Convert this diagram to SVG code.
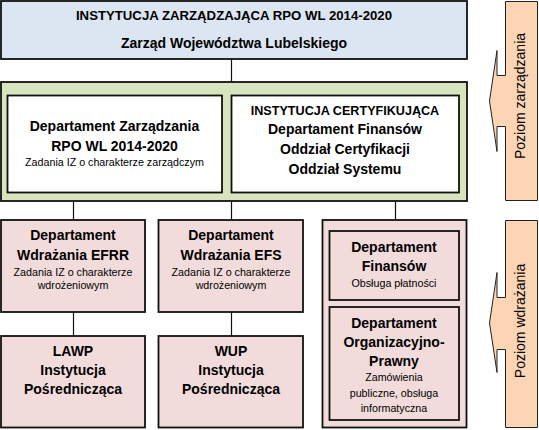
<svg xmlns="http://www.w3.org/2000/svg" width="539" height="430" viewBox="0 0 539 430">
<style>
.box{stroke:#111;stroke-width:1.8}
.blue{fill:#dce6f2}
.green{fill:#d7e4bd}
.white{fill:#ffffff}
.pink{fill:#f2dcdb}
.orange{fill:#fcd5b5;stroke:#222;stroke-width:1}
.conn{stroke:#111;stroke-width:1.2;fill:none}
text{font-family:"Liberation Sans",Arial,sans-serif;fill:#000;text-anchor:middle}
.b{font-weight:bold;font-size:14px}
.c{font-weight:bold;font-size:12.6px}
.s{font-size:10.7px}
.r{font-size:14px}
</style>
<g id="connectors">
<line class="conn" x1="231.5" y1="59" x2="231.5" y2="82"/>
<line class="conn" x1="73.5" y1="201" x2="73.5" y2="220"/>
<line class="conn" x1="231.5" y1="201" x2="231.5" y2="220"/>
<line class="conn" x1="395.5" y1="201" x2="395.5" y2="220"/>
<line class="conn" x1="73.5" y1="312" x2="73.5" y2="336"/>
<line class="conn" x1="231.5" y1="312" x2="231.5" y2="336"/>
</g>
<g id="iz">
<rect class="box blue" x="1" y="1" width="466" height="58"/>
<text class="c" x="234" y="20" style="font-size:13.2px">INSTYTUCJA ZARZĄDZAJĄCA RPO WL 2014-2020</text>
<text class="b" x="234" y="47.5">Zarząd Województwa Lubelskiego</text>
</g>
<g id="poziom-zarzadzania-grupa">
<rect class="box green" x="1" y="82" width="466" height="119"/>
</g>
<g id="dz">
<rect class="box white" x="7.5" y="95.5" width="214.5" height="97"/>
<text class="b" x="114.5" y="130.5">Departament Zarządzania</text>
<text class="b" x="114.5" y="150.5">RPO WL 2014-2020</text>
<text class="s" x="114.5" y="165.5">Zadania IZ o charakterze zarządczym</text>
</g>
<g id="ic">
<rect class="box white" x="231.5" y="95.5" width="227.5" height="97"/>
<text class="c" x="345" y="115">INSTYTUCJA CERTYFIKUJĄCA</text>
<text class="b" x="345" y="134">Departament Finansów</text>
<text class="b" x="345" y="154">Oddział Certyfikacji</text>
<text class="b" x="345" y="173.5">Oddział Systemu</text>
</g>
<g id="efrr">
<rect class="box pink" x="1" y="220" width="144" height="92"/>
<text class="b" x="73" y="240">Departament</text>
<text class="b" x="73" y="260">Wdrażania EFRR</text>
<text class="s" x="73" y="276">Zadania IZ o charakterze</text>
<text class="s" x="73" y="288.5">wdrożeniowym</text>
</g>
<g id="efs">
<rect class="box pink" x="158.5" y="220" width="144.5" height="92"/>
<text class="b" x="231" y="240">Departament</text>
<text class="b" x="231" y="260">Wdrażania EFS</text>
<text class="s" x="231" y="276">Zadania IZ o charakterze</text>
<text class="s" x="231" y="288.5">wdrożeniowym</text>
</g>
<g id="lawp">
<rect class="box pink" x="1" y="336" width="144" height="91.5"/>
<text class="b" x="73" y="356">LAWP</text>
<text class="b" x="73" y="375">Instytucja</text>
<text class="b" x="73" y="394">Pośrednicząca</text>
</g>
<g id="wup">
<rect class="box pink" x="158.5" y="336" width="144.5" height="91.5"/>
<text class="b" x="231" y="356">WUP</text>
<text class="b" x="231" y="375">Instytucja</text>
<text class="b" x="231" y="394">Pośrednicząca</text>
</g>
<g id="grupa-wdrazania">
<rect class="box pink" x="322.5" y="220" width="144" height="207.5"/>
</g>
<g id="df">
<rect class="box pink" x="329.5" y="231" width="129.5" height="69"/>
<text class="b" x="394" y="252">Departament</text>
<text class="b" x="394" y="271">Finansów</text>
<text class="s" x="394" y="287">Obsługa płatności</text>
</g>
<g id="dop">
<rect class="box pink" x="329.5" y="307" width="129.5" height="113"/>
<text class="b" x="394" y="327.5">Departament</text>
<text class="b" x="394" y="347">Organizacyjno-</text>
<text class="b" x="394" y="366">Prawny</text>
<text class="s" x="394" y="381">Zamówienia</text>
<text class="s" x="394" y="397">publiczne, obsługa</text>
<text class="s" x="394" y="412">informatyczna</text>
</g>
<g id="poziom-zarzadzania">
<path class="orange" d="M505.5,1.5 H537.5 V200.5 H505.5 V126.5 H497 V151.5 L489.5,101 L497,50.5 V75.5 H505.5 Z"/>
<text class="r" transform="translate(525,96) rotate(-90)">Poziom zarządzania</text>
</g>
<g id="poziom-wdrazania">
<path class="orange" d="M505.5,220.5 H537.5 V427.5 H505.5 V349.5 H497 V372.5 L489.5,323 L497,272.5 V297.5 H505.5 Z"/>
<text class="r" transform="translate(525,321) rotate(-90)">Poziom wdrażania</text>
</g>
</svg>
